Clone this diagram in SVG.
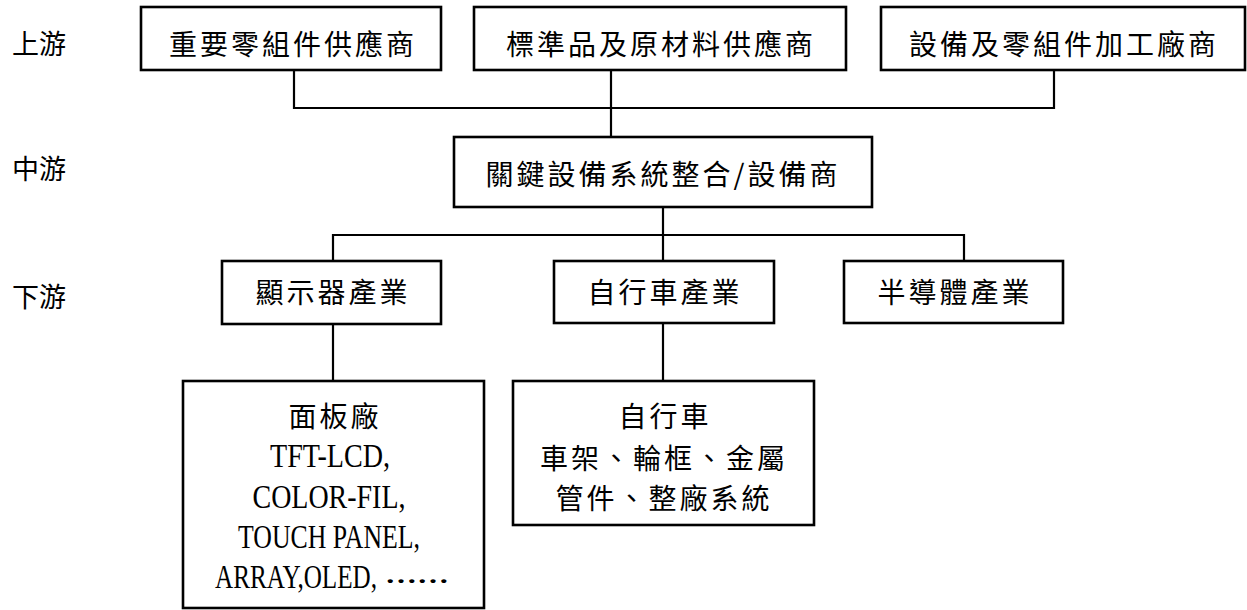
<svg xmlns="http://www.w3.org/2000/svg" width="1247" height="610" viewBox="0 0 1247 610">
<style>
.box{fill:#fff;stroke:#000;stroke-width:2.6}
.ln{fill:none;stroke:#000;stroke-width:2.2}
.zh{font-family:"Noto Sans CJK TC","Noto Sans CJK SC",sans-serif;font-size:28px;letter-spacing:3px;fill:#000;text-anchor:middle}
.side{font-family:"Noto Sans CJK TC","Noto Sans CJK SC",sans-serif;font-size:27px;fill:#000}
.en{font-family:"Liberation Serif",serif;font-size:33px;fill:#000;text-anchor:middle}
.enl{font-family:"Liberation Serif",serif;font-size:33px;fill:#000}
.dots{font-family:"Liberation Serif",serif;font-size:24px;font-weight:bold;fill:#000}
</style>
<rect width="1247" height="610" fill="#fff"/>
<g id="labels">
<text class="side" x="12" y="54">上游</text>
<text class="side" x="12" y="179">中游</text>
<text class="side" x="12" y="307">下游</text>
</g>
<g id="connectors">
<polyline class="ln" points="294,70 294,108 1054,108 1054,70"/>
<line class="ln" x1="611" y1="70" x2="611" y2="137"/>
<line class="ln" x1="663" y1="207" x2="663" y2="261"/>
<polyline class="ln" points="333,261 333,235 964,235 964,261"/>
<line class="ln" x1="333" y1="324" x2="333" y2="381"/>
<line class="ln" x1="663" y1="323" x2="663" y2="381"/>
</g>
<g id="n1">
<rect class="box" x="141" y="7" width="300" height="63"/>
<text class="zh" x="293" y="55">重要零組件供應商</text>
</g>
<g id="n2">
<rect class="box" x="474" y="7" width="372" height="63"/>
<text class="zh" x="661" y="55">標準品及原材料供應商</text>
</g>
<g id="n3">
<rect class="box" x="881" y="7" width="364" height="63"/>
<text class="zh" x="1064" y="55">設備及零組件加工廠商</text>
</g>
<g id="n4">
<rect class="box" x="454" y="137" width="418" height="70"/>
<text class="zh" x="663" y="185">關鍵設備系統整合/設備商</text>
</g>
<g id="n5">
<rect class="box" x="222" y="261" width="219" height="63"/>
<text class="zh" x="333" y="303">顯示器產業</text>
</g>
<g id="n6">
<rect class="box" x="554" y="261" width="220" height="62"/>
<text class="zh" x="665" y="303">自行車產業</text>
</g>
<g id="n7">
<rect class="box" x="844" y="261" width="219" height="62"/>
<text class="zh" x="955" y="303">半導體產業</text>
</g>
<g id="n8">
<rect class="box" x="183" y="381" width="301" height="227"/>
<text class="zh" x="335" y="427">面板廠</text>
<text class="en" x="330" y="467" textLength="120" lengthAdjust="spacingAndGlyphs">TFT-LCD,</text>
<text class="en" x="329" y="508" textLength="153" lengthAdjust="spacingAndGlyphs">COLOR-FIL,</text>
<text class="en" x="329" y="548" textLength="182" lengthAdjust="spacingAndGlyphs">TOUCH PANEL,</text>
<text class="enl" x="215" y="588" textLength="162" lengthAdjust="spacingAndGlyphs">ARRAY,OLED,</text>
<text class="dots" x="385" y="583" textLength="64" lengthAdjust="spacingAndGlyphs">……</text>
</g>
<g id="n9">
<rect class="box" x="513" y="381" width="301" height="144"/>
<text class="zh" x="665" y="427">自行車</text>
<text class="zh" x="664" y="469">車架、輪框、金屬</text>
<text class="zh" x="664" y="509">管件、整廠系統</text>
</g>
</svg>
